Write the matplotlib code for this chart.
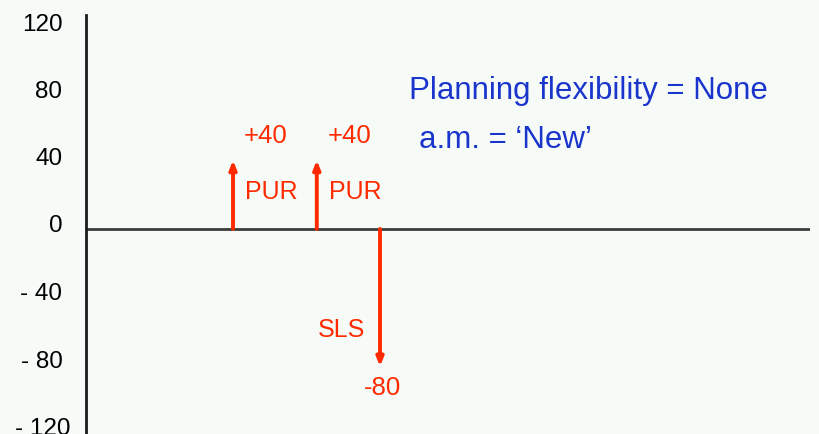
import matplotlib.pyplot as plt
import matplotlib.transforms as mtransforms

plt.rcParams['font.family'] = ['Liberation Sans', 'DejaVu Sans']

# y axis ticks
tick_values = [120, 80, 40, 0, -40, -80, -120]
tick_labels = ['120', '80', '40', '0', '- 40', '- 80', '- 120']

# movements: position on time axis, quantity, type
move_x = [2.0, 3.14, 4.0]
move_qty = [40, 40, -80]
move_type = ['PUR', 'PUR', 'SLS']

info_lines = ['Planning flexibility = None', 'a.m. = \u2018New\u2019']

red = '#ff2a00'
blue = '#1a35cc'
bg = '#f6fbf8'

fig = plt.figure(figsize=(8.19, 4.34), dpi=100, facecolor=bg)
ax = fig.add_axes([86 / 819, 0, (810 - 86) / 819, (434 - 15) / 434])
ax.set_facecolor(bg)
ax.set_xlim(0, 9.85)
ax.set_ylim(-119.2, 124.4)

for s in ['top', 'right', 'bottom']:
    ax.spines[s].set_visible(False)
ax.spines['left'].set_linewidth(2)
ax.spines['left'].set_color('#1a1a1a')

ax.axhline(0, color='#3c3c3c', lw=2, zorder=1)

# the labels in the original sit slightly off the scale of the marks
ax.set_xticks([])
ax.set_yticks([v * (0.975 if v > 0 else 0.985) + 3.2 for v in tick_values])
ax.set_yticklabels(tick_labels, fontsize=17.5)
ax.tick_params(axis='y', length=0, pad=17)
lbls = ax.get_yticklabels()
shift = mtransforms.ScaledTranslation(8 / 100, 0, fig.dpi_scale_trans)
lbls[-1].set_transform(lbls[-1].get_transform() + shift)

for x, q, t in zip(move_x, move_qty, move_type):
    ax.annotate('', xy=(x, q), xytext=(x, 0),
                arrowprops=dict(arrowstyle='-|>,head_length=0.5,head_width=0.2',
                                color=red, lw=2.8, shrinkA=0, shrinkB=0),
                zorder=3)
    if q > 0:
        ax.text(x + 0.15, 54, f'+{q}', color=red, fontsize=18.5,
                ha='left', va='center')
        ax.text(x + 0.16, 21.5, t, color=red, fontsize=18,
                ha='left', va='center')
    else:
        ax.text(x - 0.2, -58.5, t, color=red, fontsize=18,
                ha='right', va='center')
        ax.text(x + 0.03, -92.5, f'{q}', color=red, fontsize=18.5,
                ha='center', va='center')

ax.text(4.4, 80, info_lines[0], color=blue, fontsize=22.5,
        ha='left', va='center')
ax.text(4.53, 52, info_lines[1], color=blue, fontsize=22.5,
        ha='left', va='center')

fig.savefig('out.png', dpi=100, facecolor=bg)
